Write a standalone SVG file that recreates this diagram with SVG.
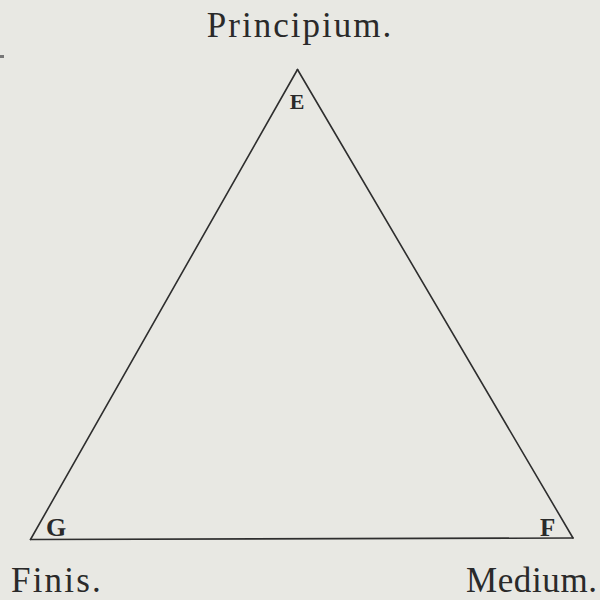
<svg xmlns="http://www.w3.org/2000/svg" width="600" height="600" viewBox="0 0 600 600">
<style>
.bg{fill:#e8e8e3}
.edge{stroke:#2e2e2e;stroke-width:1.6;fill:none;stroke-linecap:round}
.word{font-family:"Liberation Serif","DejaVu Serif",serif;font-size:35px;fill:#2a2a2a}
.vtx{font-family:"Liberation Serif","DejaVu Serif",serif;font-weight:bold;fill:#2a2a2a}
</style>
<rect class="bg" x="0" y="0" width="600" height="600"/>
<rect x="0" y="55" width="4" height="3" fill="#777"/>
<g id="connectors">
<line class="edge" x1="297.5" y1="69.5" x2="30.5" y2="539.5"/>
<line class="edge" x1="297.5" y1="69.5" x2="573" y2="538"/>
<line class="edge" x1="30.5" y1="539.5" x2="573" y2="538"/>
</g>
<g id="node-E">
<text class="vtx" x="297" y="109" font-size="22" text-anchor="middle">E</text>
<text class="word" x="300" y="37" text-anchor="middle" letter-spacing="2">Principium.</text>
</g>
<g id="node-G">
<text class="vtx" x="46" y="536" font-size="26">G</text>
<text class="word" x="11" y="592" letter-spacing="2.2">Finis.</text>
</g>
<g id="node-F">
<text class="vtx" x="540" y="536" font-size="25">F</text>
<text class="word" x="466" y="592" letter-spacing="0.6">Medium.</text>
</g>
</svg>
